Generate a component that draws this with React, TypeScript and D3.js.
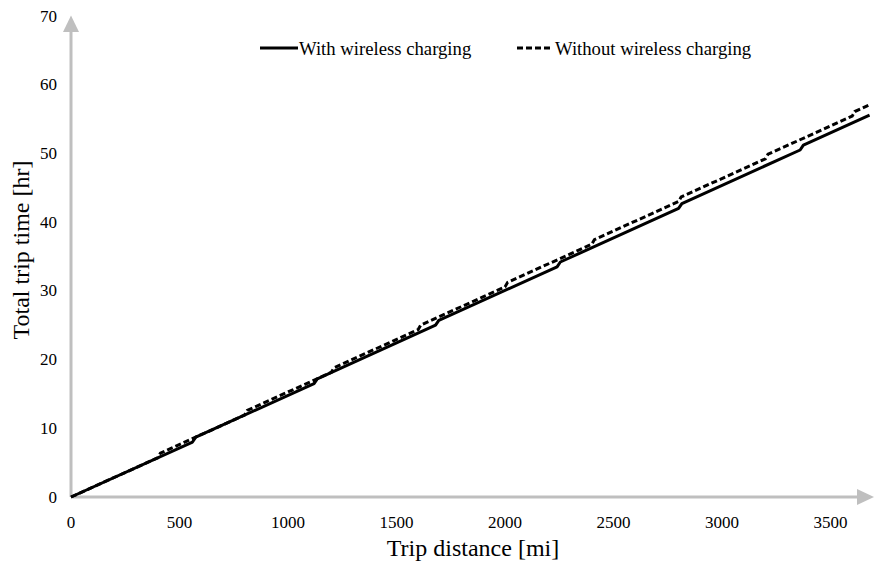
import React from "react";
import * as d3 from "d3";

const xTicks = [0, 500, 1000, 1500, 2000, 2500, 3000, 3500];
const yTicks = [0, 10, 20, 30, 40, 50, 60, 70];

const withDist = [0, 560, 575, 1120, 1135, 1680, 1695, 2240, 2255, 2800, 2815, 3360, 3375, 3680];
const withTime = [0, 8.0, 8.7, 16.5, 17.2, 25.0, 25.7, 33.5, 34.2, 42.0, 42.7, 50.5, 51.2, 55.57];

const withoutDist = [0, 400, 412, 800, 812, 1200, 1212, 1600, 1612, 2000, 2012, 2400, 2412, 2800, 2812, 3200, 3212, 3600, 3612, 3680];
const withoutTime = [0, 5.71, 6.38, 11.93, 12.6, 18.14, 18.81, 24.36, 25.03, 30.57, 31.24, 36.79, 37.46, 43.0, 43.67, 49.21, 49.88, 55.43, 56.1, 57.07];

const seriesLabels = ["With wireless charging", "Without wireless charging"];

export default function App() {
  const W = 875, H = 571;
  const x = d3.scaleLinear().domain([0, 3500]).range([71, 830.5]);
  const y = d3.scaleLinear().domain([0, 70]).range([497, 16]);
  const font = "'Liberation Serif', 'Times New Roman', serif";
  const line = d3.line<[number, number]>().x(d => x(d[0])).y(d => y(d[1]));
  const withPts = withDist.map((d, i) => [d, withTime[i]] as [number, number]);
  const withoutPts = withoutDist.map((d, i) => [d, withoutTime[i]] as [number, number]);
  const axisColor = "#bfbfbf";
  return (
    <svg width={W} height={H} style={{ position: "absolute", left: 0, top: 0 }}>
      <rect width={W} height={H} fill="#fff" />
      {/* axes */}
      <line x1={x(0)} x2={x(0)} y1={y(0)} y2={31} stroke={axisColor} strokeWidth={3} />
      <polygon points={`${x(0) - 8},32 ${x(0) + 8},32 ${x(0)},15.5`} fill={axisColor} />
      <line x1={x(0)} x2={858} y1={y(0)} y2={y(0)} stroke={axisColor} strokeWidth={3} />
      <polygon points={`857,${y(0) - 8} 857,${y(0) + 8} 874,${y(0)}`} fill={axisColor} />
      {/* ticks */}
      {yTicks.map(t => (
        <text key={t} x={57} y={y(t)} textAnchor="end" dominantBaseline="central" fontFamily={font} fontSize={17} fill="#000">{t}</text>
      ))}
      {xTicks.map(t => (
        <text key={t} x={x(t)} y={522} textAnchor="middle" dominantBaseline="central" fontFamily={font} fontSize={17} fill="#000">{t}</text>
      ))}
      {/* axis titles */}
      <text x={473} y={548} textAnchor="middle" dominantBaseline="central" fontFamily={font} fontSize={24} fill="#000">Trip distance [mi]</text>
      <text transform={`translate(21,250) rotate(-90)`} textAnchor="middle" dominantBaseline="central" fontFamily={font} fontSize={24} fill="#000">Total trip time [hr]</text>
      {/* series */}
      <path d={line(withPts) || ""} fill="none" stroke="#000" strokeWidth={3} strokeLinejoin="round" />
      <path d={line(withoutPts) || ""} fill="none" stroke="#000" strokeWidth={3} strokeDasharray="6,3" />
      {/* legend */}
      <line x1={260} x2={298} y1={48} y2={48} stroke="#000" strokeWidth={3} />
      <text x={299} y={48} dominantBaseline="central" fontFamily={font} fontSize={18.7} fill="#000">{seriesLabels[0]}</text>
      <line x1={517} x2={553} y1={48} y2={48} stroke="#000" strokeWidth={3} strokeDasharray="6,3" />
      <text x={555} y={48} dominantBaseline="central" fontFamily={font} fontSize={18.7} fill="#000">{seriesLabels[1]}</text>
    </svg>
  );
}
